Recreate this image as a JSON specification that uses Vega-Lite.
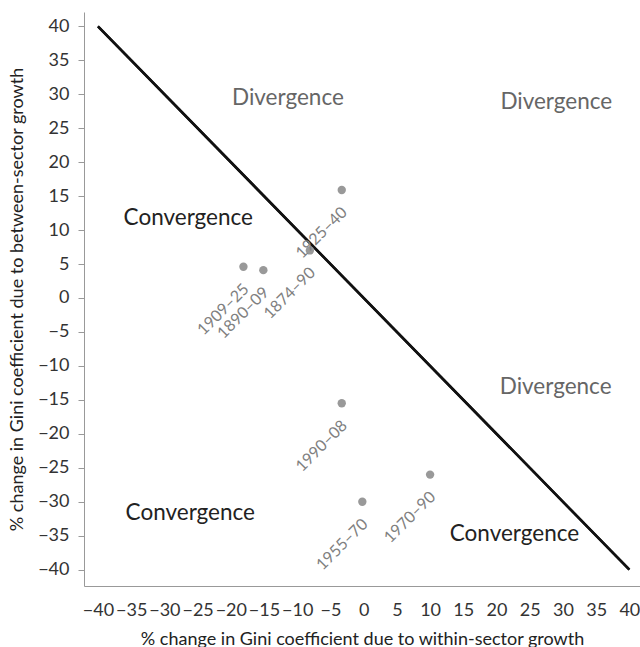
{
  "$schema": "https://vega.github.io/schema/vega-lite/v6.json",
  "width": 556,
  "height": 574,
  "autosize": "none",
  "padding": {"left": 84, "top": 12, "right": 0, "bottom": 61},
  "background": "white",
  "config": {
    "view": {"stroke": null},
    "font": "Lato",
    "axis": {"grid": false, "domainColor": "#999999", "tickColor": "#999999", "labelColor": "#333333", "titleColor": "#222222", "labelFont": "Lato", "titleFont": "Lato", "labelFontSize": 18, "titleFontSize": 18, "titleFontWeight": "normal", "labelOverlap": false, "labelFlush": false},
    "axisY": {"titleX": -67, "titleY": 287, "titleBaseline": "middle", "titleAngle": 270, "titleAlign": "center"}
  },
  "datasets": {
    "line": [{"x": -40, "y": 40}, {"x": 40, "y": -40}],
    "points": [
      {"period": "1925–40", "x": -3.3, "y": 15.9},
      {"period": "1874–90", "x": -8.1, "y": 7.0},
      {"period": "1909–25", "x": -18.1, "y": 4.6},
      {"period": "1890–09", "x": -15.1, "y": 4.1},
      {"period": "1990–08", "x": -3.3, "y": -15.5},
      {"period": "1955–70", "x": -0.2, "y": -30.0},
      {"period": "1970–90", "x": 10.0, "y": -26.0}
    ],
    "regions": [
      {"label": "Divergence", "kind": "div", "x": -11.4, "y": 29.5},
      {"label": "Divergence", "kind": "div", "x": 29.0, "y": 28.9},
      {"label": "Convergence", "kind": "conv", "x": -26.4, "y": 11.8},
      {"label": "Divergence", "kind": "div", "x": 28.9, "y": -13.1},
      {"label": "Convergence", "kind": "conv", "x": -26.1, "y": -31.7},
      {"label": "Convergence", "kind": "conv", "x": 22.7, "y": -34.8}
    ]
  },
  "layer": [
    {
      "data": {"name": "line"},
      "mark": {"type": "line", "color": "#111111", "strokeWidth": 2.5},
      "encoding": {
        "x": {"field": "x", "type": "quantitative", "scale": {"domain": [-42.1, 41.6], "nice": false, "zero": false},
          "axis": {"values": [-40, -35, -30, -25, -20, -15, -10, -5, 0, 5, 10, 15, 20, 25, 30, 35, 40], "ticks": false, "labelPadding": 15, "titlePadding": 11, "title": "% change in Gini coefficient due to within-sector growth"}},
        "y": {"field": "y", "type": "quantitative", "scale": {"domain": [-42.4, 42.1], "nice": false, "zero": false},
          "axis": {"values": [-40, -35, -30, -25, -20, -15, -10, -5, 0, 5, 10, 15, 20, 25, 30, 35, 40], "tickSize": 6, "labelPadding": 9, "title": "% change in Gini coefficient due to between-sector growth"}}
      }
    },
    {
      "mark": {"type": "rule", "color": "#999999", "strokeWidth": 1},
      "encoding": {"y": {"datum": 0, "type": "quantitative",
        "axis": {"values": [-40, -35, -30, -25, -20, -15, -10, -5, 0, 5, 10, 15, 20, 25, 30, 35, 40], "tickSize": 6, "labelPadding": 9, "title": "% change in Gini coefficient due to between-sector growth"}}}
    },
    {
      "mark": {"type": "rule", "color": "#999999", "strokeWidth": 1},
      "encoding": {"x": {"datum": 0, "type": "quantitative",
        "axis": {"values": [-40, -35, -30, -25, -20, -15, -10, -5, 0, 5, 10, 15, 20, 25, 30, 35, 40], "ticks": false, "labelPadding": 15, "titlePadding": 11, "title": "% change in Gini coefficient due to within-sector growth"}}}
    },
    {
      "mark": {"type": "line", "color": "#111111", "strokeWidth": 2.5},
      "data": {"name": "line"},
      "encoding": {
        "x": {"field": "x", "type": "quantitative",
          "axis": {"values": [-40, -35, -30, -25, -20, -15, -10, -5, 0, 5, 10, 15, 20, 25, 30, 35, 40], "ticks": false, "labelPadding": 15, "titlePadding": 11, "title": "% change in Gini coefficient due to within-sector growth"}},
        "y": {"field": "y", "type": "quantitative",
          "axis": {"values": [-40, -35, -30, -25, -20, -15, -10, -5, 0, 5, 10, 15, 20, 25, 30, 35, 40], "tickSize": 6, "labelPadding": 9, "title": "% change in Gini coefficient due to between-sector growth"}}
      }
    },
    {
      "data": {"name": "points"},
      "mark": {"type": "circle", "color": "#999999", "opacity": 1, "size": 70},
      "encoding": {
        "x": {"field": "x", "type": "quantitative",
          "axis": {"values": [-40, -35, -30, -25, -20, -15, -10, -5, 0, 5, 10, 15, 20, 25, 30, 35, 40], "ticks": false, "labelPadding": 15, "titlePadding": 11, "title": "% change in Gini coefficient due to within-sector growth"}},
        "y": {"field": "y", "type": "quantitative",
          "axis": {"values": [-40, -35, -30, -25, -20, -15, -10, -5, 0, 5, 10, 15, 20, 25, 30, 35, 40], "tickSize": 6, "labelPadding": 9, "title": "% change in Gini coefficient due to between-sector growth"}}
      }
    },
    {
      "data": {"name": "points"},
      "mark": {"type": "text", "angle": -45, "align": "right", "baseline": "middle", "dx": -12, "dy": 16, "fontSize": 16, "color": "#808080", "font": "Lato"},
      "encoding": {
        "x": {"field": "x", "type": "quantitative",
          "axis": {"values": [-40, -35, -30, -25, -20, -15, -10, -5, 0, 5, 10, 15, 20, 25, 30, 35, 40], "ticks": false, "labelPadding": 15, "titlePadding": 11, "title": "% change in Gini coefficient due to within-sector growth"}},
        "y": {"field": "y", "type": "quantitative",
          "axis": {"values": [-40, -35, -30, -25, -20, -15, -10, -5, 0, 5, 10, 15, 20, 25, 30, 35, 40], "tickSize": 6, "labelPadding": 9, "title": "% change in Gini coefficient due to between-sector growth"}},
        "text": {"field": "period"}
      }
    },
    {
      "data": {"name": "regions"},
      "mark": {"type": "text", "align": "center", "baseline": "middle", "fontSize": 22.5, "font": "Lato"},
      "encoding": {
        "x": {"field": "x", "type": "quantitative",
          "axis": {"values": [-40, -35, -30, -25, -20, -15, -10, -5, 0, 5, 10, 15, 20, 25, 30, 35, 40], "ticks": false, "labelPadding": 15, "titlePadding": 11, "title": "% change in Gini coefficient due to within-sector growth"}},
        "y": {"field": "y", "type": "quantitative",
          "axis": {"values": [-40, -35, -30, -25, -20, -15, -10, -5, 0, 5, 10, 15, 20, 25, 30, 35, 40], "tickSize": 6, "labelPadding": 9, "title": "% change in Gini coefficient due to between-sector growth"}},
        "text": {"field": "label"},
        "color": {"field": "kind", "type": "nominal", "scale": {"domain": ["div", "conv"], "range": ["#666666", "#222222"]}, "legend": null}
      }
    }
  ]
}
